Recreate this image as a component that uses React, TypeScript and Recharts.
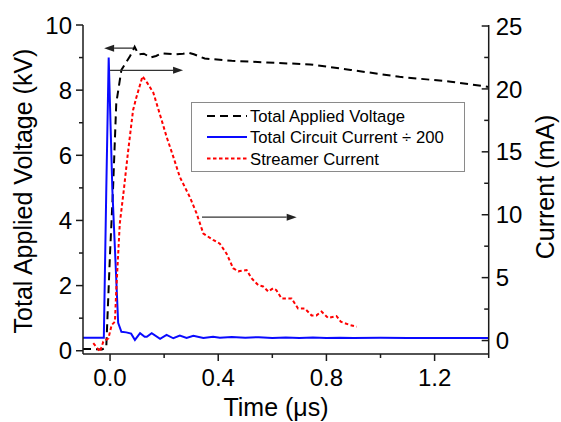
import { LineChart, Line, XAxis, YAxis, ReferenceLine, Legend } from "recharts";

const FONT = '"Liberation Sans", Arial, sans-serif';
const AXIS = "#1a1a1a";

// total applied voltage (kV, left axis)
const VOLT_TIME = [-0.1, -0.06, -0.03, -0.014, 0.0, 0.011, 0.023, 0.042, 0.073, 0.091, 0.105, 0.125, 0.15, 0.17, 0.19, 0.24, 0.27, 0.29, 0.31, 0.35, 0.45, 0.58, 0.74, 0.89, 1.07, 1.26, 1.4];
const VOLT_KV = [0.05, 0.05, 0.04, 0.1, 3.0, 4.95, 7.6, 8.62, 9.03, 9.33, 9.1, 9.12, 9.0, 9.05, 9.13, 9.1, 9.12, 9.15, 9.1, 8.97, 8.9, 8.85, 8.79, 8.62, 8.41, 8.26, 8.1];

// total circuit current / 200 (mA, right axis)
const CIRCUIT_TIME = [-0.1, -0.023, -0.014, -0.005, 0.0085, 0.03, 0.042, 0.06, 0.078, 0.092, 0.111, 0.128, 0.136, 0.154, 0.185, 0.209, 0.234, 0.258, 0.283, 0.308, 0.345, 0.381, 0.406, 0.45, 0.5, 0.55, 0.6, 0.65, 0.7, 0.75, 0.8, 0.85, 0.9, 1.0, 1.1, 1.2, 1.3, 1.4];
const CIRCUIT_MA = [0.22, 0.22, 11.9, 22.5, 12.0, 1.4, 0.7, 0.65, 0.55, 0.05, 0.58, 0.3, 0.3, 0.58, 0.13, 0.45, 0.18, 0.39, 0.2, 0.37, 0.2, 0.31, 0.23, 0.28, 0.22, 0.27, 0.2, 0.25, 0.2, 0.24, 0.2, 0.22, 0.2, 0.22, 0.2, 0.21, 0.2, 0.2];

// streamer current (mA, right axis)
const STREAMER_TIME = [-0.062, -0.037, -0.025, -0.006, 0.006, 0.018, 0.023, 0.036, 0.05, 0.066, 0.085, 0.097, 0.12, 0.137, 0.16, 0.191, 0.209, 0.234, 0.258, 0.295, 0.32, 0.345, 0.381, 0.406, 0.431, 0.455, 0.474, 0.505, 0.523, 0.548, 0.566, 0.585, 0.603, 0.615, 0.634, 0.671, 0.695, 0.72, 0.745, 0.763, 0.782, 0.806, 0.837, 0.853, 0.886, 0.912];
const STREAMER_MA = [-0.21, -0.88, -0.09, 0.18, 1.24, 1.5, 4.0, 9.3, 11.8, 14.9, 18.3, 19.3, 21.0, 20.5, 19.7, 17.5, 16.2, 14.6, 13.0, 11.4, 10.1, 8.5, 8.0, 7.7, 6.9, 5.75, 5.5, 5.6, 4.95, 4.4, 4.3, 3.9, 4.15, 4.0, 3.35, 3.35, 2.55, 2.55, 2.0, 2.0, 2.3, 1.8, 1.95, 1.5, 1.24, 1.1];

const X_TICKS = [0, 0.2, 0.4, 0.6, 0.8, 1.0, 1.2, 1.4];
const KV_TICKS = [0, 1, 2, 3, 4, 5, 6, 7, 8, 9, 10];
const MA_TICKS = [0, 2.5, 5, 7.5, 10, 12.5, 15, 17.5, 20, 22.5, 25];

// annotation arrows, in (time, kV)
const ARROWS = [
  { from: [0.085, 9.29], to: [-0.022, 9.29] },
  { from: [0.0, 8.61], to: [0.27, 8.61] },
  { from: [0.34, 4.1], to: [0.69, 4.1] },
];

const SERIES = [
  { name: "Total Applied Voltage", color: "#000000", dash: "8 5" },
  { name: "Total Circuit Current \u00f7 200", color: "#0a0aff", dash: undefined },
  { name: "Streamer Current", color: "#ff0000", dash: "3.5 2.5" },
];

const zip = (ts: number[], vs: number[]) => ts.map((t, i) => ({ t, v: vs[i] }));
const voltData = zip(VOLT_TIME, VOLT_KV);
const circuitData = zip(CIRCUIT_TIME, CIRCUIT_MA);
const streamerData = zip(STREAMER_TIME, STREAMER_MA);

const tickText = { fontFamily: FONT, fontSize: 24, fill: "#000" };

function LeftTick(props: any) {
  const { x, y, payload } = props;
  const major = payload.value % 2 === 0;
  return (
    <g>
      <line x1={x} x2={x - (major ? 7 : 4)} y1={y} y2={y} stroke={AXIS} strokeWidth={1.5} />
      {major && (
        <text x={x - 11} y={y} dy="0.36em" textAnchor="end" {...tickText}>
          {payload.value}
        </text>
      )}
    </g>
  );
}

function RightTick(props: any) {
  const { x, y, payload } = props;
  const major = payload.value % 5 === 0;
  return (
    <g>
      <line x1={x} x2={x - (major ? 7 : 4.5)} y1={y} y2={y} stroke={AXIS} strokeWidth={1.5} />
      {major && (
        <text x={x + 7} y={y} dy="0.36em" textAnchor="start" {...tickText}>
          {payload.value}
        </text>
      )}
    </g>
  );
}

function BottomTick(props: any) {
  const { x, y, payload } = props;
  const major = Math.round(payload.value * 10) % 4 === 0;
  return (
    <g>
      <line x1={x} x2={x} y1={y} y2={y + (major ? 7 : 4)} stroke={AXIS} strokeWidth={1.5} />
      {major && (
        <text x={x} y={y + 31.5} textAnchor="middle" {...tickText}>
          {payload.value.toFixed(1)}
        </text>
      )}
    </g>
  );
}

const arrowShape = (props: any) => {
  const { x1, y1, x2, y2 } = props;
  const dx = x2 - x1;
  const dy = y2 - y1;
  const len = Math.hypot(dx, dy) || 1;
  const ux = dx / len;
  const uy = dy / len;
  const hl = 10;
  const hw = 3.5;
  const bx = x2 - ux * hl;
  const by = y2 - uy * hl;
  return (
    <g>
      <line x1={x1} y1={y1} x2={bx} y2={by} stroke="#333" strokeWidth={1.3} />
      <polygon
        points={`${x2},${y2} ${bx - uy * hw},${by + ux * hw} ${bx + uy * hw},${by - ux * hw}`}
        fill="#222"
      />
    </g>
  );
};

function LegendBox() {
  const rows = [14, 35, 56.5];
  return (
    <svg width={274} height={70} style={{ display: "block" }}>
      <rect x={0.5} y={0.5} width={273} height={69} fill="#fff" stroke="#8a8a8a" strokeWidth={1} />
      {SERIES.map((s, i) => (
        <g key={s.name}>
          <line
            x1={16}
            x2={56}
            y1={rows[i]}
            y2={rows[i]}
            stroke={s.color}
            strokeWidth={2}
            strokeDasharray={s.dash}
          />
          <text x={59} y={rows[i]} dy="0.36em" fontFamily={FONT} fontSize={16.7} fill="#000">
            {s.name}
          </text>
        </g>
      ))}
    </svg>
  );
}

export default function App() {
  return (
    <div style={{ position: "absolute", left: 0, top: 0, width: 561, height: 422, background: "#fff" }}>
      <LineChart width={561} height={422} margin={{ top: 25, right: 12.3, bottom: 18, left: 23 }}>
        <XAxis
          type="number"
          dataKey="t"
          domain={[-0.1, 1.4]}
          ticks={X_TICKS}
          interval={0}
          allowDataOverflow
          height={50}
          axisLine={{ stroke: AXIS, strokeWidth: 1.5 }}
          tickLine={false}
          tickSize={0}
          tickMargin={0}
          tick={BottomTick}
          label={{
            content: () => (
              <text x={276} y={416} textAnchor="middle" fontFamily={FONT} fontSize={25} fill="#000">
                Time (μs)
              </text>
            ),
          }}
        />
        <YAxis
          yAxisId="kv"
          orientation="left"
          type="number"
          domain={[-0.1, 10]}
          ticks={KV_TICKS}
          interval={0}
          allowDataOverflow
          width={60}
          axisLine={{ stroke: AXIS, strokeWidth: 1.5 }}
          tickLine={false}
          tickSize={0}
          tickMargin={0}
          tick={LeftTick}
          label={{
            content: () => (
              <text
                x={31.5}
                y={191}
                transform="rotate(-90 31.5 191)"
                textAnchor="middle"
                fontFamily={FONT}
                fontSize={25}
                fill="#000"
              >
                Total Applied Voltage (kV)
              </text>
            ),
          }}
        />
        <YAxis
          yAxisId="ma"
          orientation="right"
          type="number"
          domain={[-1.07, 25.08]}
          ticks={MA_TICKS}
          interval={0}
          allowDataOverflow
          width={60}
          axisLine={{ stroke: AXIS, strokeWidth: 1.5 }}
          tickLine={false}
          tickSize={0}
          tickMargin={0}
          tick={RightTick}
          label={{
            content: () => (
              <text
                x={554}
                y={187}
                transform="rotate(-90 554 187)"
                textAnchor="middle"
                fontFamily={FONT}
                fontSize={25}
                fill="#000"
              >
                Current (mA)
              </text>
            ),
          }}
        />
        <Line
          yAxisId="kv"
          data={voltData}
          dataKey="v"
          type="linear"
          stroke={SERIES[0].color}
          strokeWidth={2}
          strokeDasharray={SERIES[0].dash}
          dot={false}
          activeDot={false}
          isAnimationActive={false}
        />
        <Line
          yAxisId="ma"
          data={circuitData}
          dataKey="v"
          type="linear"
          stroke={SERIES[1].color}
          strokeWidth={2}
          dot={false}
          activeDot={false}
          isAnimationActive={false}
        />
        <Line
          yAxisId="ma"
          data={streamerData}
          dataKey="v"
          type="linear"
          stroke={SERIES[2].color}
          strokeWidth={2}
          strokeDasharray={SERIES[2].dash}
          dot={false}
          activeDot={false}
          isAnimationActive={false}
        />
        {ARROWS.map((a, i) => (
          <ReferenceLine
            key={i}
            yAxisId="kv"
            ifOverflow="visible"
            segment={[
              { x: a.from[0], y: a.from[1] },
              { x: a.to[0], y: a.to[1] },
            ]}
            shape={arrowShape}
          />
        ))}
        <Legend
          layout="vertical"
          align="center"
          verticalAlign="middle"
          wrapperStyle={{ left: 191, top: 102, width: 274, height: 70 }}
          content={() => <LegendBox />}
        />
      </LineChart>
    </div>
  );
}
